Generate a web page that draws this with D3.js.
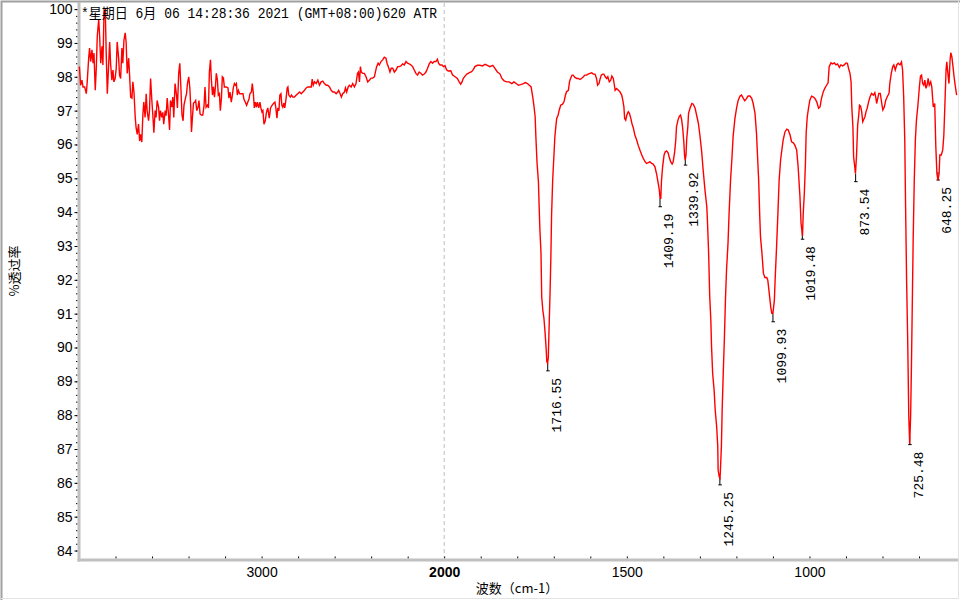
<!DOCTYPE html>
<html>
<head>
<meta charset="utf-8">
<script src="https://cdn.jsdelivr.net/npm/d3@7"></script>
<style>
  body { margin: 0; background: #fff; }
  svg { display: block; }
</style>
</head>
<body>
<div id="chart"></div>
<script>
// DATA : [wavenumber cm-1, %T]
const spectrum = [
  [3998,98.3],[3991,97.75],[3984,97.9],[3978,97.7],[3969,97.7],[3960,97.5],[3955,97.85],[3947,98.55],[3942,98.85],[3936,98.45],
  [3929,98.8],[3923,98.4],[3918,98.7],[3911,97.6],[3905,98.3],[3900,99.2],[3892,99.7],[3887,99.2],[3881,98.4],[3874,98.9],
  [3869,98.35],[3863,99.9],[3856,99.97],[3851,98.7],[3845,97.5],[3838,98.3],[3832,99.03],[3827,98.4],[3820,97.9],[3814,98.2],
  [3809,97.85],[3802,97.95],[3796,98.25],[3791,99.03],[3783,98.55],[3778,98.05],[3772,97.95],[3765,98.85],[3760,98.4],[3754,99.08],
  [3747,99.3],[3742,99.03],[3736,98.1],[3728,98.55],[3723,98.05],[3717,97.4],[3710,97.37],[3705,97.85],[3699,97.55],[3692,96.8],
  [3687,96.48],[3681,96.3],[3674,96.6],[3668,96.1],[3663,96.3],[3656,96.07],[3650,96.9],[3645,97.25],[3638,96.8],[3632,97.5],
  [3627,97.0],[3619,96.7],[3614,97.0],[3608,97.95],[3601,97.3],[3596,96.9],[3590,96.35],[3583,97.0],[3578,96.8],[3572,97.3],
  [3564,97.1],[3559,96.7],[3554,97.0],[3546,96.8],[3541,96.95],[3536,96.6],[3528,97.0],[3523,96.85],[3517,97.37],[3510,96.9],
  [3504,96.43],[3499,97.3],[3492,97.1],[3486,97.4],[3481,96.8],[3474,97.8],[3466,97.46],[3461,97.08],[3454,98.1],[3448,98.4],
  [3443,97.8],[3436,96.87],[3430,96.7],[3425,97.16],[3417,97.37],[3411,97.5],[3406,97.8],[3399,98.0],[3393,97.67],[3388,97.1],
  [3384,96.37],[3379,96.78],[3373,97.22],[3366,97.25],[3361,97.3],[3355,97.0],[3348,97.1],[3343,97.3],[3337,96.9],[3330,96.87],
  [3322,96.87],[3315,97.16],[3310,97.7],[3304,97.1],[3297,97.16],[3291,97.08],[3286,98.14],[3280,98.5],[3275,97.9],[3269,97.46],
  [3264,97.7],[3258,97.4],[3253,97.7],[3248,98.1],[3242,97.9],[3237,97.46],[3231,97.5],[3226,97.0],[3220,97.37],[3215,98.0],
  [3209,97.96],[3204,97.7],[3193,97.7],[3184,97.67],[3179,97.37],[3173,97.55],[3166,97.25],[3160,97.46],[3155,97.67],[3149,97.8],
  [3144,97.75],[3138,97.8],[3133,97.46],[3127,97.6],[3120,97.5],[3111,97.5],[3102,97.5],[3097,97.34],[3089,97.25],[3082,97.16],
  [3076,97.25],[3069,97.34],[3064,97.5],[3056,97.55],[3051,97.8],[3045,97.5],[3040,97.08],[3034,97.25],[3029,97.1],[3023,97.25],
  [3016,97.08],[3009,97.25],[3004,97.08],[2998,96.96],[2993,97.0],[2987,96.6],[2980,96.7],[2973,96.96],[2966,97.08],[2958,96.78],
  [2951,97.08],[2942,97.16],[2934,97.22],[2927,97.25],[2922,97.08],[2916,96.78],[2911,97.08],[2905,97.0],[2900,97.46],[2894,97.5],
  [2889,97.16],[2884,97.1],[2878,97.22],[2873,97.08],[2865,97.4],[2860,97.67],[2856,97.7],[2851,97.46],[2843,97.4],[2836,97.46],
  [2829,97.4],[2820,97.4],[2810,97.46],[2802,97.5],[2792,97.55],[2783,97.5],[2774,97.55],[2765,97.6],[2756,97.67],[2747,97.7],
  [2738,97.7],[2728,97.7],[2723,97.93],[2717,97.75],[2710,97.85],[2701,97.8],[2692,97.9],[2683,97.75],[2674,97.85],[2665,97.87],
  [2656,97.8],[2646,97.75],[2638,97.75],[2628,97.7],[2619,97.6],[2610,97.55],[2601,97.55],[2592,97.5],[2583,97.55],[2578,97.6],
  [2570,97.5],[2563,97.4],[2556,97.5],[2546,97.55],[2541,97.67],[2534,97.55],[2526,97.7],[2519,97.75],[2510,97.7],[2501,97.8],
  [2492,97.7],[2483,97.8],[2475,98.1],[2470,98.14],[2464,97.85],[2459,98.3],[2454,98.14],[2446,98.1],[2437,98.1],[2428,98.0],
  [2419,97.85],[2410,97.9],[2400,97.96],[2392,97.96],[2382,98.0],[2377,98.14],[2370,98.3],[2362,98.4],[2355,98.35],[2346,98.45],
  [2337,98.5],[2328,98.58],[2319,98.55],[2313,98.4],[2306,98.3],[2297,98.14],[2290,98.25],[2282,98.25],[2273,98.14],[2264,98.2],
  [2255,98.3],[2246,98.3],[2237,98.32],[2228,98.38],[2219,98.35],[2209,98.45],[2201,98.4],[2191,98.38],[2182,98.35],[2173,98.3],
  [2164,98.2],[2155,98.1],[2146,98.05],[2137,98.14],[2127,98.1],[2119,98.05],[2109,98.08],[2100,98.14],[2091,98.25],[2082,98.38],
  [2073,98.45],[2064,98.4],[2055,98.45],[2045,98.45],[2037,98.52],[2031,98.4],[2023,98.35],[2012,98.35],[2004,98.3],
  [1998,98.33],[1993,98.2],[1989,98.17],[1982,98.18],[1977,98.05],[1970,98.0],[1964,97.95],[1959,97.85],[1955,97.78],[1951,97.85],
  [1948,97.95],[1943,98.02],[1938,98.08],[1931,98.12],[1925,98.15],[1920,98.22],[1916,98.3],[1909,98.34],[1902,98.34],[1895,98.32],
  [1888,98.37],[1882,98.34],[1875,98.3],[1867,98.34],[1861,98.25],[1855,98.15],[1847,98.08],[1842,97.95],[1836,97.88],[1829,97.85],
  [1822,97.85],[1815,97.8],[1809,97.85],[1803,97.8],[1797,97.75],[1791,97.77],[1783,97.8],[1778,97.83],[1772,97.8],[1767,97.75],
  [1762,97.7],[1760,97.56],[1757,97.36],[1754,97.11],[1751,96.82],[1749,96.23],[1746,95.49],[1742,94.9],[1740,94.16],[1738,93.48],
  [1735,92.8],[1733,91.5],[1730,91.1],[1727,90.87],[1724,90.47],[1721,89.99],[1719,89.58],[1717,89.54],[1715,89.69],[1713,90.52],
  [1710,91.7],[1708,92.65],[1706,93.91],[1703,94.94],[1699,95.79],[1697,96.23],[1694,96.57],[1692,96.77],[1688,96.87],[1685,97.02],
  [1681,97.16],[1676,97.19],[1672,97.26],[1668,97.46],[1665,97.56],[1660,97.6],[1657,97.85],[1654,97.95],[1650,98.05],[1647,98.05],
  [1642,97.98],[1637,97.95],[1633,97.95],[1628,97.92],[1624,97.95],[1619,98.0],[1615,98.05],[1610,98.05],[1606,98.08],[1601,98.1],
  [1596,98.12],[1592,98.08],[1587,98.08],[1583,97.95],[1580,97.75],[1576,97.8],[1574,97.9],[1570,98.05],[1566,98.08],[1563,98.08],
  [1559,98.0],[1555,97.95],[1552,98.0],[1548,97.85],[1544,97.9],[1541,98.02],[1537,97.95],[1534,97.75],[1532,97.6],[1528,97.65],
  [1523,97.6],[1519,97.56],[1514,97.46],[1511,97.31],[1508,97.11],[1506,96.77],[1503,96.72],[1500,96.87],[1496,96.97],[1493,96.92],
  [1489,96.77],[1486,96.62],[1482,96.48],[1478,96.28],[1473,96.13],[1469,95.98],[1464,95.83],[1459,95.69],[1455,95.59],[1450,95.49],
  [1446,95.44],[1441,95.46],[1437,95.49],[1432,95.44],[1428,95.42],[1423,95.34],[1418,95.1],[1414,94.85],[1411,94.65],[1409,94.41],
  [1407,94.41],[1405,94.94],[1402,95.34],[1398,95.69],[1395,95.78],[1391,95.81],[1387,95.75],[1384,95.63],[1380,95.49],[1376,95.42],
  [1373,95.49],[1369,95.78],[1366,96.13],[1364,96.52],[1360,96.72],[1356,96.84],[1353,96.87],[1350,96.74],[1347,96.48],[1344,96.08],
  [1342,95.69],[1340,95.54],[1338,95.69],[1336,96.17],[1333,96.52],[1331,96.92],[1327,97.07],[1322,97.21],[1318,97.19],[1313,97.07],
  [1309,96.87],[1304,96.62],[1300,96.28],[1295,95.78],[1291,95.24],[1286,94.65],[1281,94.16],[1279,93.67],[1276,92.78],[1273,91.5],
  [1270,90.81],[1268,90.02],[1265,89.24],[1261,88.74],[1258,88.15],[1254,87.66],[1251,87.07],[1250,86.38],[1247,86.18],[1245,86.14],
  [1244,86.3],[1241,87.1],[1239,88.14],[1236,89.24],[1233,90.22],[1230,91.4],[1227,92.29],[1223,93.07],[1220,93.96],[1216,94.94],
  [1212,95.63],[1209,96.23],[1204,96.77],[1199,97.11],[1195,97.31],[1190,97.43],[1186,97.46],[1181,97.36],[1177,97.29],[1172,97.36],
  [1168,97.43],[1163,97.43],[1158,97.36],[1154,97.21],[1149,96.92],[1145,96.33],[1142,95.63],[1139,94.94],[1136,93.86],[1134,93.27],
  [1130,92.78],[1126,92.19],[1122,92.07],[1117,92.07],[1114,91.99],[1110,91.6],[1106,91.2],[1103,91.01],[1100,91.01],[1096,91.4],
  [1094,91.99],[1090,92.97],[1086,94.06],[1083,94.94],[1079,95.54],[1075,95.88],[1072,96.13],[1067,96.37],[1062,96.45],[1058,96.43],
  [1053,96.28],[1049,96.08],[1044,96.05],[1040,95.98],[1035,95.84],[1031,95.34],[1026,94.46],[1023,93.67],[1019,93.3],[1017,93.96],
  [1014,94.55],[1011,95.44],[1009,96.33],[1006,96.82],[1002,97.11],[999,97.31],[994,97.43],[990,97.41],[985,97.36],[980,97.26],
  [975,97.07],[971,97.11],[967,97.36],[962,97.56],[958,97.66],[953,97.75],[949,97.82],[946,98.3],[941,98.41],[937,98.38],
  [932,98.41],[927,98.35],[923,98.38],[918,98.28],[914,98.35],[909,98.32],[905,98.35],[900,98.41],[896,98.4],[893,98.25],
  [889,98.1],[886,97.85],[884,97.11],[881,96.52],[879,95.63],[876,95.34],[874,95.14],[871,95.69],[868,96.57],[865,96.87],
  [863,97.16],[860,97.13],[857,96.97],[854,96.67],[852,96.72],[848,96.82],[845,96.97],[842,97.07],[838,97.26],[834,97.41],
  [830,97.51],[825,97.46],[821,97.53],[818,97.36],[816,97.21],[813,97.36],[810,97.51],[806,97.51],[802,97.21],[799,97.02],
  [795,97.11],[791,97.31],[787,97.41],[782,97.51],[780,97.8],[776,98.1],[772,98.3],[769,98.35],[765,98.2],[761,98.35],
  [757,98.4],[752,98.35],[748,98.44],[745,98.2],[742,97.41],[739,96.13],[737,94.36],[734,91.99],[731,90.22],[728,87.96],
  [725.5,87.15],[723,87.96],[721,89.26],[719,90.81],[716,93.18],[713,94.94],[710,96.13],[707,96.72],[703,97.16],[699,97.7],
  [696,98.02],[693,98.05],[690,97.8],[687,97.75],[684,97.9],[681,97.66],[678,97.75],[675,97.95],[672,97.75],[668,97.85],
  [665,97.7],[661,97.11],[657,97.21],[654,95.93],[651,95.14],[648,94.94],[645,95.14],[643,95.69],[639,95.69],[635,95.84],
  [632,96.28],[629,97.21],[626,98.2],[624,98.44],[621,98.1],[618,97.8],[615,98.49],[613,98.71],[610,98.59],[607,98.3],
  [604,98.0],[601,97.75],[597,97.46]
];

// labelled peaks
const peakWn  = [1716.55, 1409.19, 1339.92, 1245.25, 1099.93, 1019.48, 873.54, 725.48, 648.25];
const peakPct = [89.31, 94.16, 95.39, 85.94, 90.76, 93.20, 94.90, 87.13, 94.95];

// ticks
const xMajorTicks = [3000, 2000, 1500, 1000];
const xMinorTicks = [3800, 3600, 3400, 3200, 3000, 2800, 2600, 2400, 2200, 2000,
                     1900, 1800, 1700, 1600, 1500, 1400, 1300, 1200, 1100, 1000, 900, 800, 700];
const yTicks = [84, 85, 86, 87, 88, 89, 90, 91, 92, 93, 94, 95, 96, 97, 98, 99, 100];

const titleText = "*星期日 6月 06 14:28:36 2021 (GMT+08:00)620 ATR";
const xLabel = "波数（cm-1）";
const yLabel = "%透过率";

const width = 960, height = 600;
const axisGray = "#c0c0c0";

// SCALES (wavenumber axis is expanded below 2000)
const xScale = d3.scaleLinear()
    .domain([4000, 2000, 596])
    .range([79, 444.2, 957]);

const yScale = d3.scaleLinear()
    .domain([83.72, 100.21])
    .range([560, 2]);

const svg = d3.select("#chart")
    .append("svg")
    .attr("width", width)
    .attr("height", height);

svg.append("rect")
    .attr("width", width).attr("height", height)
    .attr("fill", "#fff");

// sunken frame around the picture
svg.append("path")
    .attr("d", `M1.5,${height} V1.5 H${width}`)
    .attr("fill", "none").attr("stroke", "#a0a0a0").attr("stroke-width", 2);
svg.append("path")
    .attr("d", `M1,${height - 1.5} H${width - 1.5} V1`)
    .attr("fill", "none").attr("stroke", "#e3e3e3").attr("stroke-width", 1);

// dashed line at the scale break
svg.append("line")
    .attr("x1", xScale(2000)).attr("x2", xScale(2000))
    .attr("y1", 3).attr("y2", 558)
    .attr("stroke", "#bdbdbd")
    .attr("stroke-dasharray", "4,3");

// AXES
const tickFont = "'Liberation Sans', Arial, sans-serif";

const yAxisG = svg.append("g")
    .attr("transform", "translate(77.5,0)")
    .call(d3.axisLeft(yScale).tickValues(yTicks).tickSize(3).tickPadding(2));
yAxisG.select(".domain").remove();
yAxisG.selectAll("text").attr("font-family", tickFont).attr("font-size", 14).attr("fill", "#000");

const yMinorG = svg.append("g")
    .attr("transform", "translate(77.5,0)")
    .call(d3.axisLeft(yScale).tickValues(d3.range(84, 100.01, 0.2)).tickSize(1.5).tickFormat(""));
yMinorG.select(".domain").remove();

const xMinorG = svg.append("g")
    .attr("transform", "translate(0,558.5)")
    .call(d3.axisTop(xScale).tickValues(xMinorTicks).tickSize(2).tickFormat(""));
xMinorG.select(".domain").remove();

const xAxisG = svg.append("g")
    .attr("transform", "translate(0,561)")
    .call(d3.axisBottom(xScale).tickValues(xMajorTicks).tickSize(0).tickPadding(6)
        .tickFormat(d3.format("d")));
xAxisG.select(".domain").remove();
xAxisG.selectAll("text")
    .attr("font-family", tickFont).attr("font-size", 14).attr("fill", "#000")
    .attr("font-weight", d => d === 2000 ? "bold" : "normal");

// thick grey axis lines
svg.append("line")
    .attr("x1", 79).attr("x2", 79).attr("y1", 2).attr("y2", 561.5)
    .attr("stroke", axisGray).attr("stroke-width", 3);
svg.append("line")
    .attr("x1", 77.5).attr("x2", 958).attr("y1", 560).attr("y2", 560)
    .attr("stroke", axisGray).attr("stroke-width", 3);

// AXIS TITLES
svg.append("text")
    .attr("transform", "translate(13,271) rotate(-90)")
    .attr("text-anchor", "middle")
    .attr("dominant-baseline", "central")
    .attr("font-family", "'Noto Sans CJK SC', sans-serif")
    .attr("font-size", 13)
    .text(yLabel);

svg.append("text")
    .attr("x", 517).attr("y", 593)
    .attr("text-anchor", "middle")
    .attr("font-family", "'Noto Sans CJK SC', sans-serif")
    .attr("font-size", 13)
    .text(xLabel);

// PEAK MARKERS
const peaks = peakWn.map((w, i) => ({ wn: w, pct: peakPct[i] }));

const markG = svg.append("g");
markG.selectAll("line.stem")
    .data(peaks)
    .join("line")
    .attr("class", "stem")
    .attr("x1", d => xScale(d.wn)).attr("x2", d => xScale(d.wn))
    .attr("y1", d => yScale(d.pct) - 8).attr("y2", d => yScale(d.pct))
    .attr("stroke", "#000").attr("stroke-width", 1);
markG.selectAll("line.foot")
    .data(peaks)
    .join("line")
    .attr("class", "foot")
    .attr("x1", d => xScale(d.wn) - 1.5).attr("x2", d => xScale(d.wn) + 2)
    .attr("y1", d => yScale(d.pct)).attr("y2", d => yScale(d.pct))
    .attr("stroke", "#000").attr("stroke-width", 1);

// SPECTRUM
const line = d3.line()
    .x(d => xScale(d[0]))
    .y(d => yScale(d[1]));

svg.append("path")
    .datum(spectrum)
    .attr("d", line)
    .attr("fill", "none")
    .attr("stroke", "#ff0000")
    .attr("stroke-width", 1.4)
    .attr("stroke-linejoin", "miter");

// PEAK LABELS
svg.append("g")
    .selectAll("text")
    .data(peaks)
    .join("text")
    .attr("transform", d => `translate(${xScale(d.wn) + 9.5},${yScale(d.pct) + 7}) rotate(-90)`)
    .attr("text-anchor", "end")
    .attr("dominant-baseline", "central")
    .attr("font-family", "'Liberation Mono', 'DejaVu Sans Mono', monospace")
    .attr("font-size", 13)
    .text(d => d.wn.toFixed(2));

// TITLE
svg.append("text")
    .attr("x", 81).attr("y", 18)
    .attr("font-family", "'Liberation Mono', 'Noto Sans CJK SC', monospace")
    .attr("font-size", 14)
    .attr("textLength", 356)
    .attr("lengthAdjust", "spacingAndGlyphs")
    .text(titleText);
</script>
</body>
</html>
